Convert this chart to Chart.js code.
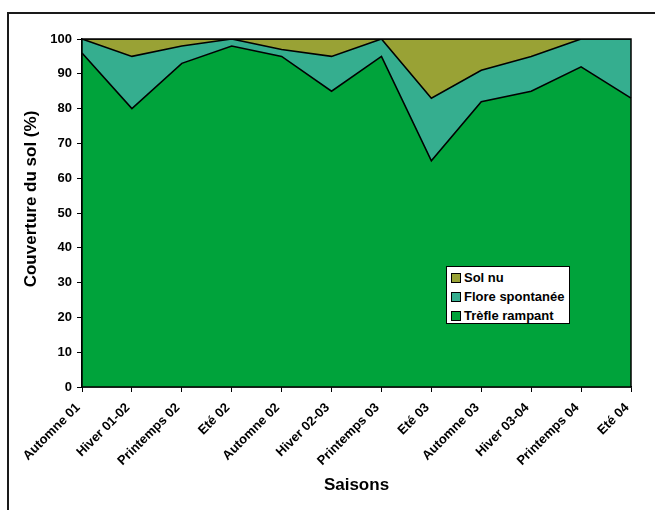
<!DOCTYPE html>
<html>
<head>
<meta charset="utf-8">
<script src="https://cdn.jsdelivr.net/npm/chart.js@4/dist/chart.umd.min.js"></script>
<style>
  html, body { margin: 0; padding: 0; background: #fff; overflow: hidden; }
  #wrap { position: relative; width: 655px; height: 510px; overflow: hidden; }
  #frame { position: absolute; left: 7px; top: 12px; width: 700px; height: 600px;
           border: 2px solid #1a1a1a; box-sizing: border-box; }
  canvas { position: absolute; left: 0; top: 0; }
  #legend { position: absolute; left: 446px; top: 266px; width: 124px; height: 58px;
            box-sizing: border-box; border: 1.5px solid #000; background: #fff;
            font: bold 13px "Liberation Sans", Arial, sans-serif; color: #000;
            padding: 1px 0 0 4px; }
  #legend div { height: 19px; line-height: 19px; white-space: nowrap; }
  #legend span.sw { display: inline-block; width: 8px; height: 8px; border: 1px solid #000;
                    margin-right: 3px; vertical-align: -1px; }
</style>
</head>
<body>
<div id="wrap">
  <div id="frame"></div>
  <canvas id="c" width="655" height="510"></canvas>
  <div id="legend"></div>
</div>
<script>
// Seasons of the survey
const saisons = ['Automne 01', 'Hiver 01-02', 'Printemps 02', 'Eté 02', 'Automne 02', 'Hiver 02-03',
                 'Printemps 03', 'Eté 03', 'Automne 03', 'Hiver 03-04', 'Printemps 04', 'Eté 04'];
// Ground cover shares (%), stacked from the bottom
const trefleRampant    = [96, 80, 93, 98, 95, 85, 95, 65, 82, 85, 92, 83];
const floreSpontanee   = [4, 15, 5, 2, 2, 10, 5, 18, 9, 10, 8, 17];
const solNu            = [0, 5, 2, 0, 3, 5, 0, 17, 9, 5, 0, 0];
const yTicks           = [0, 10, 20, 30, 40, 50, 60, 70, 80, 90, 100];

const FONT = '"Liberation Sans", Arial, sans-serif';

// Black frame around the plotting area
const plotFrame = {
  id: 'plotFrame',
  afterDatasetsDraw(chart) {
    const { ctx, chartArea: a } = chart;
    ctx.save();
    ctx.strokeStyle = '#000';
    ctx.lineWidth = 1.5;
    ctx.strokeRect(a.left, a.top, a.right - a.left, a.bottom - a.top);
    ctx.restore();
  }
};

// Vertical axis title
const yTitle = {
  id: 'yTitle',
  afterDraw(chart) {
    const { ctx } = chart;
    ctx.save();
    ctx.translate(31, 199);
    ctx.rotate(-Math.PI / 2);
    ctx.font = 'bold 17px ' + FONT;
    ctx.fillStyle = '#000';
    ctx.textAlign = 'center';
    ctx.textBaseline = 'middle';
    ctx.fillText('Couverture du sol (%)', 0, 0);
    ctx.restore();
  }
};

const area = (label, data, color, fill) => ({
  label, data, fill,
  backgroundColor: color,
  borderColor: '#000',
  borderWidth: 1.6,
  pointRadius: 0,
  tension: 0
});

const chart = new Chart(document.getElementById('c'), {
  type: 'line',
  data: {
    labels: saisons,
    datasets: [
      area('Trèfle rampant', trefleRampant, '#00A33B', 'origin'),
      area('Flore spontanée', floreSpontanee, '#35AE8F', '-1'),
      area('Sol nu', solNu, '#99A235', '-1')
    ]
  },
  options: {
    responsive: false,
    animation: false,
    layout: { padding: { top: 39, right: 24, left: 0, bottom: 0 } },
    plugins: { legend: { display: false }, tooltip: { enabled: false } },
    scales: {
      x: {
        offset: false,
        grid: { drawOnChartArea: false, drawTicks: true, tickLength: 5, color: '#000', lineWidth: 1 },
        border: { color: '#000', width: 1.5 },
        ticks: { color: '#000', font: { family: FONT, size: 13, weight: 'bold' },
                 maxRotation: 45, minRotation: 45, padding: 8, labelOffset: -4, autoSkip: false },
        title: { display: true, text: 'Saisons', color: '#000',
                 font: { family: FONT, size: 17, weight: 'bold' }, padding: { top: 0, bottom: 14 } },
        afterFit(s) { s.height = 123; }
      },
      y: {
        stacked: true,
        min: 0, max: 100,
        afterBuildTicks(s) { s.ticks = yTicks.map(v => ({ value: v })); },
        grid: { drawOnChartArea: false, drawTicks: true, tickLength: 5, color: '#000', lineWidth: 1 },
        border: { color: '#000', width: 1.5 },
        ticks: { color: '#000', font: { family: FONT, size: 13, weight: 'bold' }, padding: 5 },
        afterFit(s) { s.width = 82; }
      }
    }
  },
  plugins: [plotFrame, yTitle]
});

// Legend box, top series first
const leg = document.getElementById('legend');
chart.data.datasets.slice().reverse().forEach(ds => {
  const row = document.createElement('div');
  const sw = document.createElement('span');
  sw.className = 'sw';
  sw.style.background = ds.backgroundColor;
  row.appendChild(sw);
  row.appendChild(document.createTextNode(ds.label));
  leg.appendChild(row);
});
</script>
</body>
</html>
